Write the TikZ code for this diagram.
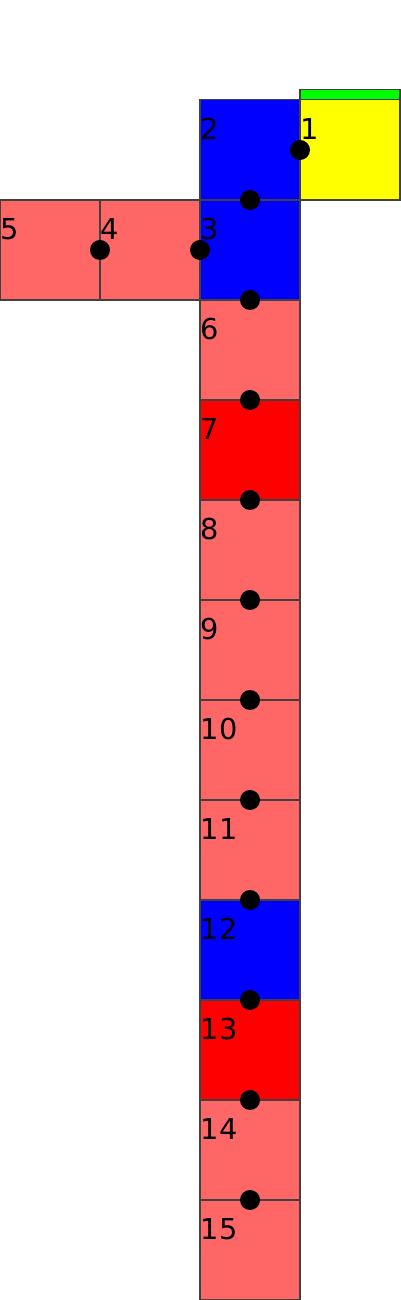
\documentclass[tikz,border=0pt]{standalone}
\usepackage{xcolor}
\definecolor{cellLight}{RGB}{255,102,102}
\definecolor{cellRed}{RGB}{255,0,0}
\definecolor{cellBlue}{RGB}{0,0,255}
\definecolor{cellYellow}{RGB}{255,255,0}
\definecolor{headGreen}{RGB}{0,255,0}
\usepackage{fontspec}
\setmainfont{DejaVu Sans}
\usepackage{tikz}
\usetikzlibrary{positioning,calc}
\tikzstyle{square}=[draw=black!75, line width=0.3pt, minimum width=1cm, minimum height=1cm, inner sep=0pt, outer sep=0pt]
\tikzstyle{headbar}=[draw=black!75, line width=0.3pt, fill=headGreen, minimum width=1cm, minimum height=0.1cm, inner sep=0pt, outer sep=0pt]
\tikzstyle{joint}=[circle, fill=black, minimum size=0.2cm, inner sep=0pt]
\tikzstyle{celllabel}=[anchor=base west, inner sep=0pt, font=\fontsize{8.2}{9.8}\selectfont]

\begin{document}
\begin{tikzpicture}
    \useasboundingbox (0,0) rectangle (4,13);

    % Kopf und Anfang
    \node[square, fill=cellYellow] (c1) at (3.5, 11.5) {};
    \node[headbar, above=0pt of c1] (g1) {};
    \node[square, fill=cellBlue] (c2) at (2.5, 11.5) {};
    \node[square, fill=cellBlue] (c3) at (2.5, 10.5) {};

    % Seitenarm
    \node[square, fill=cellLight] (c4) at (1.5, 10.5) {};
    \node[square, fill=cellLight] (c5) at (0.5, 10.5) {};

    % Saeule nach unten
    \foreach \n/\col in {6/cellLight,7/cellRed,8/cellLight,9/cellLight,10/cellLight,
                         11/cellLight,12/cellBlue,13/cellRed,14/cellLight,15/cellLight} {
      \node[square, fill=\col] (c\n) at (2.5, 15.5-\n) {};
    }

    % Nummern
    \foreach \n in {1,...,15} {
      \node[celllabel] (l\n) at ($(c\n.north west)+(0,-0.4)$) {\n};
    }

    % Gelenke
    \node[joint] (j1) at (c1.west) {};
    \node[joint] (j2) at (c2.south) {};
    \node[joint] (j3) at (c3.west) {};
    \node[joint] (j4) at (c4.west) {};
    \foreach \n in {3,6,7,8,9,10,11,12,13,14} {
      \node[joint] (k\n) at (c\n.south) {};
    }
  \end{tikzpicture}
\end{document}
